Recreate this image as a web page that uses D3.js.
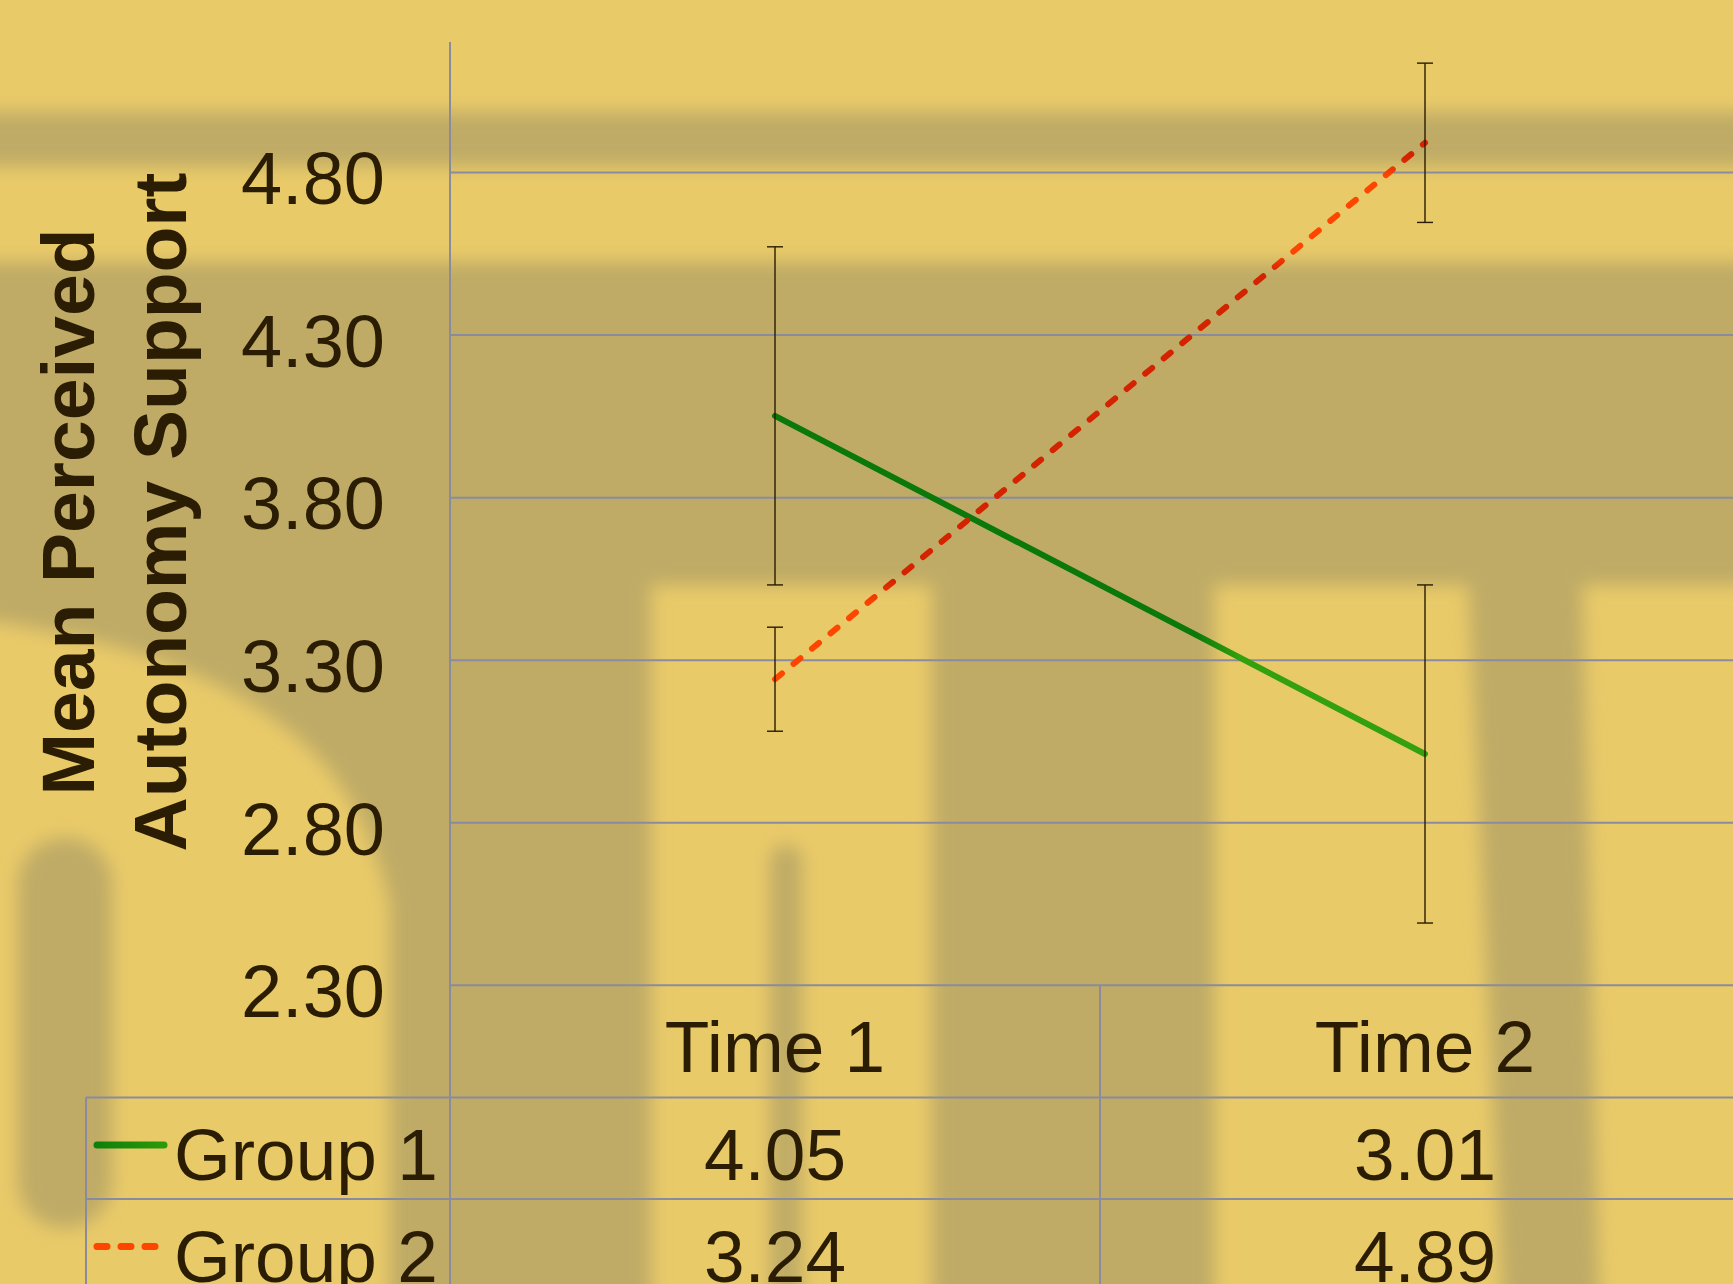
<!DOCTYPE html>
<html>
<head>
<meta charset="utf-8">
<script src="https://cdn.jsdelivr.net/npm/d3@7"></script>
<style>
body { margin: 0; background: #E9CA69; overflow: hidden; }
text { font-family: "Liberation Sans", Arial, sans-serif; fill: #2B1D04; }
</style>
</head>
<body>
<div id="chart"></div>
<script>
// ----------------------------------------------------------------------
// data

var categories = ["Time 1", "Time 2"];
var seriesNames = ["Group 1", "Group 2"];
var group1 = [4.05, 3.01];
var group2 = [3.24, 4.89];
var group1Err = [0.52, 0.52];
var group2Err = [0.16, 0.245];
var tickValues = [2.30, 2.80, 3.30, 3.80, 4.30, 4.80];
var tickLabels = ["2.30", "2.80", "3.30", "3.80", "4.30", "4.80"];

// ----------------------------------------------------------------------

var width = 1733, height = 1284;
var plotLeft = 450, plotRight = 1750, plotTop = 42, plotBottom = 984.8;
var rowH = 101.5;
var light = "#E9CA69", dark = "#BFAB66";

var svg = d3.select("#chart").append("svg")
    .attr("width", width).attr("height", height);

var defs = svg.append("defs");
defs.append("filter").attr("id", "blur")
    .attr("x", "-20%").attr("y", "-20%").attr("width", "140%").attr("height", "140%")
    .append("feGaussianBlur").attr("stdDeviation", 9);

var x = d3.scaleBand().domain(categories).range([plotLeft, plotRight]);
var y = d3.scaleLinear().domain([2.3, 5.2]).range([plotBottom, plotTop]);
function cx(c) { return x(c) + x.bandwidth() / 2; }

// background photo shadows (decoration)
svg.append("rect").attr("width", width).attr("height", height).attr("fill", light);
var shade = svg.append("g").attr("filter", "url(#blur)").attr("fill", dark);
shade.append("rect").attr("x", -50).attr("y", 112).attr("width", 1850).attr("height", 54);
shade.append("rect").attr("x", -50).attr("y", 262).attr("width", 1850).attr("height", 323);
shade.append("rect").attr("x", 390).attr("y", 262).attr("width", 261).attr("height", 1100);
shade.append("rect").attr("x", 932).attr("y", 262).attr("width", 282).attr("height", 1100);
shade.append("path").attr("d", "M1453,262 L1575,262 L1600,1350 L1505,1350 Z");
shade.append("path").attr("d",
    "M-50,262 L460,262 L460,1350 L402,1350 L402,998 C398,900 370,800 300,740 C230,680 140,640 -50,615 Z");
shade.append("rect").attr("x", 18).attr("y", 838).attr("width", 94).attr("height", 390).attr("rx", 46);
shade.append("rect").attr("x", 770).attr("y", 845).attr("width", 32).attr("height", 500).attr("rx", 16);

// gradients that follow the light / dark background under the lines
function gradient(id, horizontal, stops) {
    var gr = defs.append("linearGradient").attr("id", id)
        .attr("gradientUnits", "userSpaceOnUse")
        .attr("x1", 0).attr("y1", 0)
        .attr("x2", horizontal ? width : 0).attr("y2", horizontal ? 0 : height);
    var span = horizontal ? width : height;
    stops.forEach(function(s) {
        gr.append("stop").attr("offset", s[0] / span).attr("stop-color", s[1]);
    });
}
var g1Dark = "#0A780A", g1Light = "#33A00E";
var g2Dark = "#D42300", g2Light = "#FF4600";
gradient("g1grad", true, [[0, g1Dark], [1195, g1Dark], [1240, g1Light], [width, g1Light]]);
gradient("g2grad", false, [[0, g2Dark], [158, g2Dark], [176, g2Light], [252, g2Light],
    [272, g2Dark], [580, g2Dark], [605, g2Light], [height, g2Light]]);
gradient("keygrad", true, [[0, "#0C800A"], [95, "#0C800A"], [166, "#2C9A0A"], [width, "#2C9A0A"]]);

// gridlines
var grid = svg.append("g").attr("transform", "translate(" + plotLeft + ",0)")
    .call(d3.axisLeft(y).tickValues(tickValues).tickSize(-(plotRight - plotLeft)).tickFormat(""));
grid.select(".domain").remove();
grid.selectAll("line").attr("stroke", "#8A8B9E").attr("stroke-width", 2);

// tick labels
var yAxis = svg.append("g").attr("transform", "translate(" + plotLeft + ",0)")
    .call(d3.axisLeft(y).tickValues(tickValues)
        .tickFormat(function(d, i) { return tickLabels[i]; })
        .tickSize(0).tickPadding(65));
yAxis.select(".domain").remove();
yAxis.selectAll("text").attr("font-size", 74).attr("dy", "0.43em")
    .attr("font-family", "Liberation Sans, Arial, sans-serif").attr("fill", "#2B1D04");

// axis line and data table borders
var border = svg.append("g").attr("stroke", "#8A8B9E").attr("stroke-width", 2);
border.append("line").attr("x1", plotLeft).attr("x2", plotLeft).attr("y1", plotTop).attr("y2", height);
border.append("line").attr("x1", x(categories[1])).attr("x2", x(categories[1]))
    .attr("y1", plotBottom).attr("y2", height);
[0, 1].forEach(function(r) {
    var ly = plotBottom + 112.7 + r * rowH;
    border.append("line").attr("x1", 86).attr("x2", width).attr("y1", ly).attr("y2", ly);
});
border.append("line").attr("x1", 86).attr("x2", 86).attr("y1", plotBottom + 112.7).attr("y2", height);

// series lines
var line = d3.line().x(function(d, i) { return cx(categories[i]); }).y(function(d) { return y(d); });
svg.append("path").datum(group1).attr("d", line)
    .attr("fill", "none").attr("stroke", "url(#g1grad)").attr("stroke-width", 6)
    .attr("stroke-linecap", "round");
svg.append("path").datum(group2).attr("d", line)
    .attr("fill", "none").attr("stroke", "url(#g2grad)").attr("stroke-width", 6)
    .attr("stroke-linecap", "round").attr("stroke-dasharray", "9,15");

// error bars
var bars = [];
group1.forEach(function(v, i) { bars.push({c: categories[i], v: v, e: group1Err[i]}); });
group2.forEach(function(v, i) { bars.push({c: categories[i], v: v, e: group2Err[i]}); });
var eb = svg.append("g").attr("stroke", "#2A1C00").attr("stroke-width", 1.4);
bars.forEach(function(b) {
    var px = cx(b.c);
    eb.append("line").attr("x1", px).attr("x2", px).attr("y1", y(b.v + b.e)).attr("y2", y(b.v - b.e));
    eb.append("line").attr("x1", px - 8).attr("x2", px + 8).attr("y1", y(b.v + b.e)).attr("y2", y(b.v + b.e));
    eb.append("line").attr("x1", px - 8).attr("x2", px + 8).attr("y1", y(b.v - b.e)).attr("y2", y(b.v - b.e));
});

// axis title
var title = ["Mean Perceived", "Autonomy Support"];
title.forEach(function(t, i) {
    svg.append("text").attr("transform", "translate(" + (94 + i * 92) + ",512) rotate(-90)")
        .attr("text-anchor", "middle").attr("font-size", 75).attr("font-weight", "bold").text(t);
});

// category labels
categories.forEach(function(c) {
    svg.append("text").attr("x", cx(c)).attr("y", 1072).attr("text-anchor", "middle")
        .attr("font-size", 73).text(c);
});

// data table rows
var rows = [group1, group2];
var keyColors = ["url(#keygrad)", "#FF4500"];
rows.forEach(function(vals, r) {
    var base = 1180 + r * rowH;
    svg.append("line").attr("x1", 97).attr("x2", 164).attr("y1", base - 35).attr("y2", base - 35)
        .attr("stroke", keyColors[r]).attr("stroke-width", 7)
        .attr("stroke-linecap", "round")
        .attr("stroke-dasharray", r == 1 ? "10,14" : null);
    svg.append("text").attr("x", 174).attr("y", base).attr("font-size", 73).text(seriesNames[r]);
    vals.forEach(function(v, i) {
        svg.append("text").attr("x", cx(categories[i])).attr("y", base).attr("text-anchor", "middle")
            .attr("font-size", 73).text(v.toFixed(2));
    });
});
</script>
</body>
</html>
